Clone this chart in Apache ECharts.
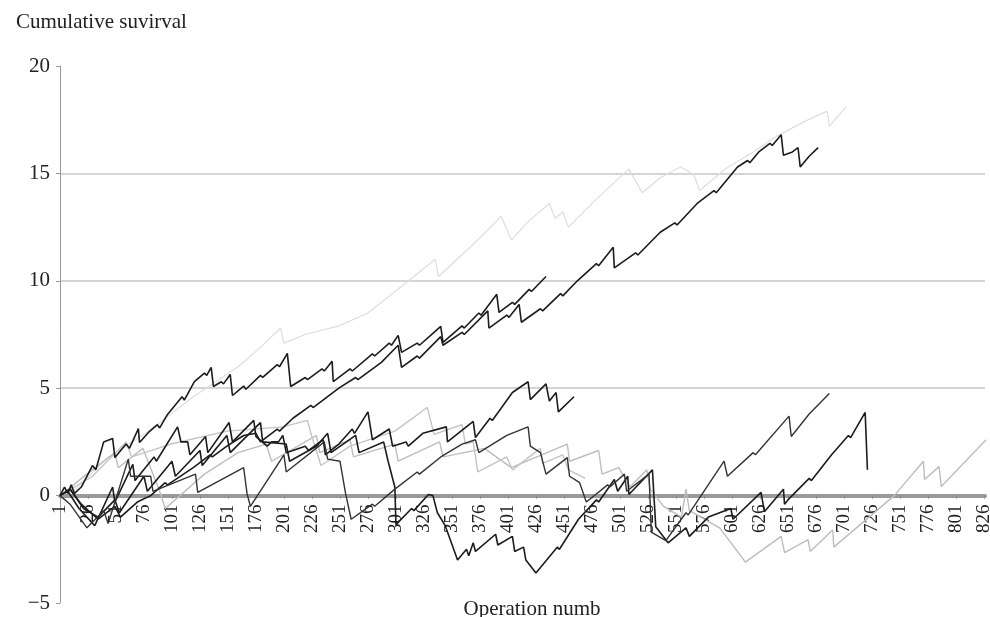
<!DOCTYPE html>
<html><head><meta charset="utf-8">
<script src="https://cdn.jsdelivr.net/npm/echarts@6/dist/echarts.min.js"></script>
<style>html,body{margin:0;padding:0;background:#fff}#c{width:990px;height:617px}</style>
</head><body><div id="c"></div>
<script>
// [operation number, cumulative value] vertices
const seriesA = [[1,0],[5,0.4],[8,0.1],[11,0.5],[14,0.1],[20,0.4],[30,1.4],[33,1.2],[40,2.5],[48,2.66],[50,1.77],[60,2.4],[63,2.2],[71,3.12],[72,2.47],[80,2.94],[88,3.3],[90,3.15],[97,3.78],[110,4.6],[112,4.45],[121,5.31],[130,5.7],[132,5.6],[136,5.97],[138,5.08],[145,5.3],[147,5.2],[153,5.64],[155,4.66],[165,5.1],[167,4.95],[180,5.6],[182,5.5],[195,6.1],[197,6.0],[204,6.62],[207,5.08],[220,5.5],[222,5.4],[235,5.9],[237,5.8],[244,6.25],[245,5.31],[260,5.9],[262,5.8],[280,6.6],[282,6.5],[295,7.1],[297,7.0],[303,7.46],[306,6.67],[320,7.1],[322,7.0],[335,7.6],[341,7.88],[343,7.13],[360,7.9],[362,7.8],[375,8.5],[377,8.4],[391,9.37],[393,8.53],[405,9.0],[407,8.9],[420,9.6],[422,9.5],[435,10.2]];
const seriesB = [[1,0],[10,0.3],[20,-0.4],[35,-1.1],[50,-0.5],[55,-1.0],[70,-0.3],[82,0.0],[95,0.6],[97,0.5],[120,1.3],[135,1.9],[137,1.8],[150,2.3],[165,2.8],[176,2.9],[180,2.5],[195,3.1],[197,3.0],[209,3.6],[225,4.2],[227,4.1],[250,5.0],[265,5.5],[267,5.4],[288,6.2],[303,7.0],[306,5.97],[320,6.5],[322,6.4],[341,7.4],[343,7.0],[360,7.6],[362,7.5],[383,8.6],[384,7.8],[400,8.4],[402,8.3],[411,8.9],[413,8.07],[430,8.7],[432,8.6],[448,9.4],[450,9.3],[463,10.0],[480,10.8],[482,10.7],[495,11.56],[496,10.6],[515,11.3],[517,11.2],[537,12.26],[550,12.7],[552,12.6],[570,13.6],[585,14.2],[587,14.1],[606,15.3],[615,15.6],[617,15.5],[625,16.0],[635,16.4],[637,16.3],[645,16.8],[647,15.85],[655,16.0],[660,16.2],[662,15.3],[670,15.8],[678,16.2]];
const seriesC = [[1,0],[8,0.2],[18,-0.6],[32,-1.4],[48,0.4],[50,-0.3],[66,1.45],[68,0.7],[85,1.8],[87,1.6],[106,3.2],[109,2.5],[115,2.5],[117,1.9],[131,2.75],[133,2.0],[152,3.4],[155,2.5],[174,3.5],[176,2.75],[186,2.3],[190,2.5],[196,2.5],[200,2.8],[203,2.0],[220,2.3],[223,2.1],[236,2.6],[238,1.9],[250,2.4],[262,3.1],[264,2.9],[276,3.9],[280,2.6],[295,3.1],[298,2.3],[310,2.5],[312,2.3],[325,2.9],[346,3.2],[347,2.5],[370,3.45],[372,2.7],[385,3.6],[387,3.5],[405,4.8],[419,5.3],[421,4.47],[435,5.2],[438,4.4],[444,4.8],[446,3.9],[460,4.6]];
const seriesD = [[1,0],[10,0.3],[22,-0.6],[35,-1.0],[50,-0.2],[54,-0.8],[76,0.9],[79,0.2],[101,1.6],[104,0.9],[126,2.1],[128,1.4],[150,2.8],[153,2.0],[180,3.4],[182,2.5],[203,2.4],[206,1.6],[230,2.3],[240,2.9],[243,2.0],[265,2.8],[268,2.0],[290,2.5],[294,1.6],[300,0.4],[301,-1.35],[315,-0.6],[317,-0.7],[330,0.05],[334,0.0],[338,-0.8],[345,-1.4],[356,-3.0],[364,-2.5],[366,-2.8],[370,-2.2],[372,-2.6],[390,-1.8],[392,-2.3],[405,-1.9],[407,-2.6],[415,-2.4],[417,-3.0],[426,-3.6],[445,-2.4],[447,-2.5],[464,-1.1],[480,-0.2],[482,-0.3],[496,0.75],[499,0.2],[508,0.9],[509,0.05],[530,1.2],[533,-1.45],[544,-2.2],[560,-1.5],[563,-1.9],[580,-1.0],[600,-0.6],[602,-1.1],[627,0.15],[630,-0.75],[647,0.3],[648,-0.4],[651,-0.2],[670,0.8],[672,0.7],[690,1.9],[705,2.8],[707,2.7],[720,3.87],[722,1.2]];
const seriesE = [[1,0],[10,-0.4],[25,-1.5],[40,-0.7],[44,-1.3],[62,1.7],[64,0.9],[82,0.9],[84,0.2],[122,1.0],[124,0.15],[165,1.3],[168,0.1],[171,-0.5],[201,1.9],[203,1.1],[237,2.5],[240,1.7],[251,1.6],[256,0.1],[261,-1.1],[280,-0.4],[282,-0.5],[300,0.3],[320,1.1],[322,1.0],[341,1.8],[360,2.4],[372,2.6],[375,2.0],[400,2.8],[419,3.2],[421,2.3],[430,2.0],[435,1.0],[454,1.77],[456,0.9],[465,0.6],[471,-0.3],[490,0.5],[492,0.4],[505,1.0],[507,0.2],[527,1.0],[529,-1.7],[542,-2.1],[560,-0.8],[562,-0.9],[594,1.6],[597,0.9],[620,2.0],[622,1.9],[652,3.7],[654,2.75],[670,3.8],[688,4.75]];
const seriesF = [[1,0],[15,0.3],[42,1.7],[80,3.0],[120,4.6],[160,6.0],[180,6.9],[198,7.8],[201,7.1],[220,7.5],[250,7.9],[276,8.5],[317,10.2],[336,11.0],[339,10.2],[370,11.7],[395,13.0],[404,11.9],[420,12.8],[438,13.6],[443,12.9],[450,13.2],[455,12.5],[480,13.8],[509,15.2],[521,14.1],[537,14.8],[555,15.3],[567,14.95],[572,14.2],[595,15.2],[620,16.0],[640,16.7],[665,17.4],[686,17.9],[688,17.2],[703,18.1]];
const seriesG = [[1,0],[25,1.0],[50,2.0],[53,1.3],[75,2.2],[90,0.2],[95,-0.6],[130,1.0],[160,2.0],[185,2.4],[190,1.6],[230,2.8],[233,2.0],[260,2.6],[263,1.8],[300,2.4],[303,1.6],[340,2.5],[343,1.8],[380,2.2],[404,1.3],[454,2.4],[456,1.6],[482,2.1],[485,1.0],[500,1.3],[510,0.4],[525,1.2],[528,0.3],[540,-0.5],[556,-1.0],[560,0.3],[563,-0.7],[590,-1.5],[606,-2.6],[613,-3.1],[645,-1.9],[648,-2.65],[669,-2.05],[671,-2.6],[691,-1.6],[692,-2.4],[746,0],[772,1.6],[773,0.75],[786,1.35],[788,0.42],[828,2.6]];
const seriesH = [[1,0],[30,0.9],[60,2.5],[65,1.8],[100,2.4],[150,3.0],[200,3.2],[222,3.5],[225,2.9],[234,1.4],[260,2.3],[300,3.0],[329,4.1],[335,2.85],[360,3.3],[363,2.4],[370,2.5],[374,1.1],[400,1.8],[405,1.2],[430,2.2],[432,1.5],[450,1.9],[455,1.2],[470,0.8]];

const yTicks = [-5, 0, 5, 10, 15, 20];
const xTickStep = 25;
const yTitle = 'Cumulative suvirval';
const xTitle = 'Operation numb';

const black = '#1c1c1c';
const lines = [
  {d: seriesF, c: '#dedede', w: 1.2},
  {d: seriesG, c: '#bdbdbd', w: 1.4},
  {d: seriesH, c: '#c4c4c4', w: 1.4},
  {d: seriesA, c: black, w: 1.6},
  {d: seriesB, c: black, w: 1.6},
  {d: seriesC, c: black, w: 1.6},
  {d: seriesD, c: black, w: 1.6},
  {d: seriesE, c: '#333', w: 1.4}
];
const font = 'Liberation Serif';
const gridTop = 66, gridBottom = 14, plotH = 617 - gridTop - gridBottom;
const yMin = yTicks[0], yMax = yTicks[yTicks.length - 1];
const zeroOffset = plotH * (0 - yMin) / (yMax - yMin);
const chart = echarts.init(document.getElementById('c'));
chart.setOption({
  animation: false,
  backgroundColor: '#fff',
  grid: {left: 60, right: 5, top: gridTop, bottom: gridBottom, containLabel: false, outerBoundsMode: 'none'},
  title: [
    {text: yTitle, left: 11, top: 7, textStyle: {fontFamily: font, fontSize: 21, fontWeight: 'normal', color: '#222'}},
    {text: xTitle, left: 527, top: 594, textAlign: 'center', textStyle: {fontFamily: font, fontSize: 21, fontWeight: 'normal', color: '#222'}}
  ],
  xAxis: {
    type: 'value', min: 0, max: 826, interval: xTickStep, position: 'bottom',
    offset: -zeroOffset,
    axisLine: {onZero: false, lineStyle: {color: '#9a9a9a', width: 4}},
    axisTick: {show: true, length: 3, lineStyle: {color: '#888'}},
    splitLine: {show: false},
    axisLabel: {rotate: 90, fontFamily: font, fontSize: 19, color: '#222', margin: 9, showMaxLabel: false,
      formatter: v => String(v + 1)}
  },
  yAxis: {
    type: 'value', min: yMin, max: yMax, interval: 5,
    axisLine: {show: true, lineStyle: {color: '#999', width: 1}},
    axisTick: {show: true, length: 4, lineStyle: {color: '#999'}},
    splitLine: {show: true, showMinLine: false, showMaxLine: false, lineStyle: {color: '#d4d4d4', width: 2}},
    axisLabel: {fontFamily: font, fontSize: 21, color: '#222', margin: 10,
      formatter: v => String(v).replace('-', '\u2212')}
  },
  series: lines.map(l => ({
    type: 'line', showSymbol: false, symbol: 'none', z: 3,
    data: l.d.map(p => [p[0] - 1, p[1]]),
    lineStyle: {color: l.c, width: l.w}
  }))
});
</script></body></html>
